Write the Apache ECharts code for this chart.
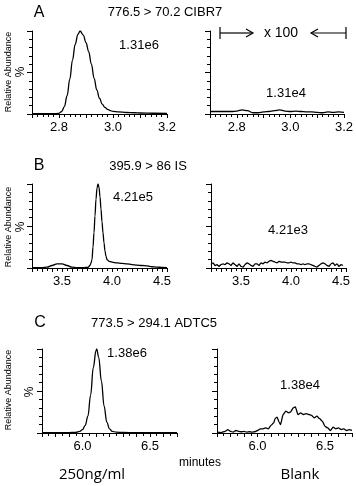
<!DOCTYPE html>
<html><head><meta charset="utf-8">
<script src="https://cdn.jsdelivr.net/npm/echarts@6/dist/echarts.min.js"></script>
<style>html,body{margin:0;padding:0;background:#fff}#c{width:356px;height:486px}</style>
</head><body><div id="c"></div>
<script>
// ---- data (retention time in minutes, relative abundance in %) ----
const aLeftX = [2.70,2.75,2.79,2.80,2.81,2.82,2.83,2.84,2.85,2.86,2.87,2.878,2.89,2.90,2.91,2.92,2.93,2.94,2.95,2.96,2.97,2.98,2.99,3.00,3.02,3.05,3.08,3.10,3.15,3.20];
const aLeftY = [0.3,0.3,0.4,0.8,3,9,22,42,65,84,96,100,95,86,75,60,43,29,19,12,8,5.5,4,3.2,2.5,1.8,1.5,1.2,0.9,0.6];
const aRightX = [2.70,2.74,2.78,2.80,2.82,2.84,2.86,2.88,2.90,2.92,2.94,2.96,2.98,3.00,3.02,3.04,3.06,3.08,3.10,3.12,3.14,3.16,3.18,3.20];
const aRightY = [3,3,3,3.5,5,4,1.5,1.5,2.5,3,4,5,3.5,3,3.5,3,2.5,2.5,2,1.5,2.5,2,2.5,2];
const bLeftX = [3.20,3.30,3.35,3.40,3.45,3.50,3.55,3.60,3.65,3.70,3.74,3.76,3.78,3.79,3.80,3.81,3.82,3.83,3.84,3.85,3.86,3.87,3.88,3.89,3.90,3.91,3.92,3.93,3.94,3.95,3.97,4.00,4.05,4.10,4.15,4.20,4.25,4.30,4.35,4.40,4.45,4.50,4.55];
const bLeftY = [0.5,0.5,1,3,5,5,3,1,0.5,0.5,0.6,0.8,3,6,10,25,42,62,82,95,100,96,85,70,55,42,30,20,14,10,8,7,6,5.5,5,4,3.5,3,2.5,1.5,1,0.8,0.5];
const bRightX = [3.20,3.22,3.24,3.26,3.28,3.30,3.32,3.34,3.36,3.38,3.40,3.42,3.44,3.46,3.48,3.50,3.52,3.54,3.56,3.58,3.60,3.62,3.64,3.66,3.68,3.70,3.72,3.74,3.76,3.78,3.80,3.82,3.84,3.86,3.88,3.90,3.92,3.94,3.96,3.98,4.00,4.02,4.04,4.06,4.08,4.10,4.12,4.14,4.16,4.18,4.20,4.22,4.24,4.26,4.28,4.30,4.32,4.34,4.36,4.38,4.40,4.42,4.44,4.46,4.48,4.50,4.52];
const bRightY = [4,6,3,4,2,4,5,4,6,5,3,6,4,2,5,2,1,4,6,5,3,2,5,5,3,6,5,7,6,8,9,8,7,6,8,7,7,7,6,6,7,6,6,5,5,4,5,4,5,5,4,3,2,1,3,5,6,5,3,2,5,6,3,5,2,4,3];
const cLeftX = [5.70,5.80,5.90,5.95,5.98,6.00,6.02,6.04,6.06,6.08,6.10,6.105,6.12,6.14,6.16,6.18,6.20,6.22,6.25,6.30,6.40,6.50,6.60,6.70];
const cLeftY = [0.3,0.3,0.4,0.8,2,4,9,20,45,78,98,100,90,62,32,13,5,2,1,0.6,0.4,0.3,0.3,0.3];
const cRightX = [5.70,5.73,5.76,5.78,5.80,5.82,5.84,5.86,5.88,5.90,5.92,5.94,5.96,5.98,6.00,6.02,6.04,6.06,6.08,6.10,6.12,6.13,6.145,6.16,6.17,6.19,6.21,6.23,6.245,6.265,6.28,6.30,6.32,6.34,6.36,6.38,6.40,6.42,6.44,6.46,6.48,6.50,6.52,6.54,6.56,6.58,6.60,6.62,6.64,6.66,6.68,6.70];
const cRightY = [1,0.5,2,4,2,1,3,2,1.5,2,1,1.5,1,1.5,3,5,5,6,5,9,12,17,19,13,10,22,26,24,25,30,31,22,24,22,23,22,21,18,20,17,14,8,6,3,7,5,6,4,5,3,4,3];

const xRanges = [[2.70,3.20],[2.70,3.20],[3.20,4.55],[3.20,4.55],[5.70,6.70],[5.70,6.70]];
const labelSteps = [0.2,0.2,0.5,0.5,0.5,0.5];
const minorSplits = [5,5,2,2,2,2];

const FONT = 'Liberation Sans, Arial, sans-serif';
const grids = [
  {left:32, top:31, width:135, height:83},
  {left:210, top:31, width:135, height:83},
  {left:32, top:184, width:135, height:84},
  {left:211, top:184, width:135, height:84},
  {left:42, top:349, width:135, height:84},
  {left:217, top:349, width:135, height:84}
];
const seriesData = [[aLeftX,aLeftY],[aRightX,aRightY],[bLeftX,bLeftY],[bRightX,bRightY],[cLeftX,cLeftY],[cRightX,cRightY]];
const smoothFlags = [0.4,0.3,0.4,0.2,0.4,0.2];

const xAxes = grids.map((g,i)=>({
  type:'value', gridIndex:i, min:xRanges[i][0], max:xRanges[i][1], interval:0.1,
  axisLine:{show:true, lineStyle:{color:'#000', width:1}}, splitLine:{show:false},
  axisTick:{show:true, length:4, lineStyle:{color:'#000', width:1}},
  minorTick:{show:true, splitNumber:minorSplits[i], length:3, lineStyle:{color:'#000', width:1}},
  axisLabel:{margin:7, fontSize:13, color:'#000', fontFamily:FONT,
    formatter:v=>{const s=labelSteps[i]; const r=v/s; return Math.abs(r-Math.round(r))<1e-6 ? v.toFixed(1) : '';}}
}));
const yAxes = grids.map((g,i)=>({
  type:'value', gridIndex:i, min:0, max:100, interval:50,
  axisLine:{show:true, lineStyle:{color:'#000', width:1}}, splitLine:{show:false}, axisLabel:{show:false},
  axisTick:{show:true, length:5, lineStyle:{color:'#000', width:1}},
  minorTick:{show:true, splitNumber:5, length:3, lineStyle:{color:'#000', width:1}}
}));
const series = seriesData.map((d,i)=>({
  type:'line', xAxisIndex:i, yAxisIndex:i, showSymbol:false, smooth:smoothFlags[i], smoothMonotone:'x',
  lineStyle:{color:'#000', width:1.3},
  data:d[0].map((x,k)=>[x,d[1][k]])
}));

function txt(text,x,y,size,opts){
  opts=opts||{};
  return {type:'text', x:x, y:y, rotation:opts.rot||0, style:{text:text, fontSize:size, fontFamily:opts.font||FONT, fill:'#000', align:opts.align||'center', verticalAlign:'middle'}};
}
const R = Math.PI/2;
const graphic = [
  txt('A',39,13,16), txt('776.5 > 70.2 CIBR7',165,12,13),
  txt('1.31e6',139,45,13), txt('1.31e4',286,93,13),
  txt('Relative Abundance',9,72,9,{rot:R}), txt('%',21,72,12,{rot:R}),
  txt('B',39,166,16), txt('395.9 > 86 IS',148,166,13),
  txt('4.21e5',133,197,13), txt('4.21e3',288,230,13),
  txt('Relative Abundance',9,227,9,{rot:R}), txt('%',21,227,12,{rot:R}),
  txt('C',40,323,16), txt('773.5 > 294.1 ADTC5',154,323,13),
  txt('1.38e6',127,353,13), txt('1.38e4',300,385,13),
  txt('Relative Abundance',9,390,9,{rot:R}), txt('%',30,392,12,{rot:R}),
  txt('250ng/ml',92,475,15,{font:'Open Sans, sans-serif'}),
  txt('minutes',200,463,12),
  txt('Blank',300,475,15,{font:'Open Sans, sans-serif'}),
  txt('x 100',281,33,14),
  {type:'line', shape:{x1:220,y1:27,x2:220,y2:39}, style:{stroke:'#000',lineWidth:1.2}},
  {type:'line', shape:{x1:220,y1:33,x2:252,y2:33}, style:{stroke:'#000',lineWidth:1.2}},
  {type:'polyline', shape:{points:[[246,29],[253,33],[246,37]]}, style:{stroke:'#000',fill:null,lineWidth:1.2}},
  {type:'line', shape:{x1:311,y1:33,x2:346,y2:33}, style:{stroke:'#000',lineWidth:1.2}},
  {type:'line', shape:{x1:346,y1:27,x2:346,y2:39}, style:{stroke:'#000',lineWidth:1.2}},
  {type:'polyline', shape:{points:[[318,29],[311,33],[318,37]]}, style:{stroke:'#000',fill:null,lineWidth:1.2}}
];

const chart = echarts.init(document.getElementById('c'), null, {renderer:'canvas'});
chart.setOption({animation:false, backgroundColor:'#fff', grid:grids, xAxis:xAxes, yAxis:yAxes, series:series, graphic:graphic});
</script></body></html>
